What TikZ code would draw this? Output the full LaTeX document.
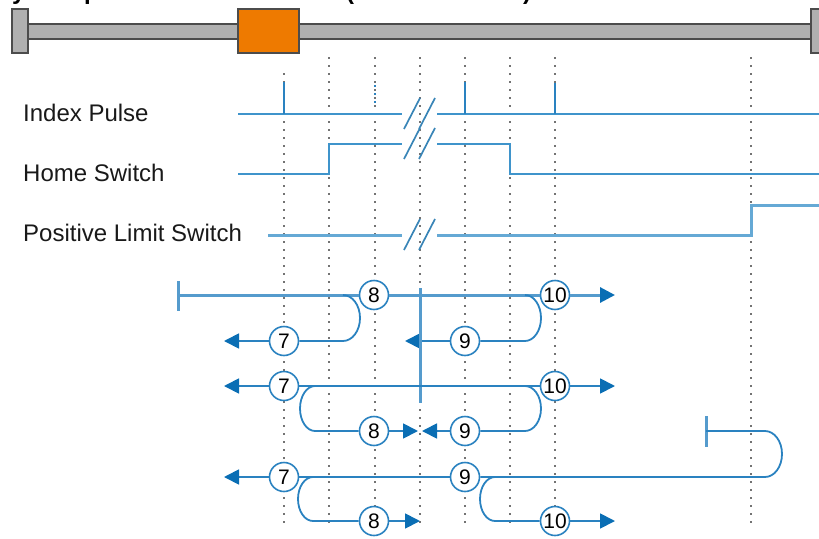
\documentclass[tikz,border=0pt]{standalone}
\usepackage{fontspec}
\setmainfont{Liberation Sans}
\usetikzlibrary{arrows.meta}
\definecolor{sig}{HTML}{3F94CB}
\definecolor{flow}{HTML}{2A82C0}
\definecolor{tip}{HTML}{0A6EB4}
\tikzset{
  x=1pt,y=-1pt,
  grid/.style={black!55,line width=1.1pt,dash pattern=on 2pt off 6pt},
  sigline/.style={sig,line width=1.7pt},
  sigthick/.style={sig!80,line width=3pt},
  slash/.style={sig!90!black,line width=1.7pt},
  flowline/.style={flow,line width=1.8pt},
  thickflow/.style={flow!80,line width=3pt},
  arrowtip/.style={-{Triangle[length=15pt,width=15pt,color=tip]}},
  num/.style={circle,draw=flow,line width=1.6pt,fill=white,minimum size=29pt,inner sep=0pt,font=\fontsize{21}{21}\selectfont},
  label/.style={anchor=west,inner sep=0pt,font=\fontsize{24}{24}\selectfont,text=black!90},
  railbox/.style={draw=black!70,line width=1.5pt,fill=black!31},
  titletext/.style={anchor=base west,inner sep=0pt,font=\bfseries\fontsize{24}{24}\selectfont},
}
\begin{document}
\begin{tikzpicture}
\useasboundingbox (0,0) rectangle (819,538);
\clip (0,0) rectangle (819,538);
% cropped title
\node[titletext] (t1) at (12,-1) {y};
\node[titletext] (t2) at (84,-1) {p};
\node[titletext] (t3) at (346,-1) {(};
\node[titletext] (t4) at (523,-1) {)};
% rail
\draw[railbox] (27,24) rectangle (813,39);
\draw[railbox] (12,9) rectangle (28,53);
\draw[railbox] (811,9) rectangle (828,53);
\draw[draw=black!70,line width=1.5pt,fill={rgb,255:red,238;green,122;blue,0}] (238,9) rectangle (299,53);
% grid lines
\foreach \x/\t in {284/73,329/57,375/57,420/57,465/57,510/57,555/57,751/57}
  \draw[grid] (\x,\t) -- (\x,524);
% labels
\node[label] (ip) at (23,113) {Index Pulse};
\node[label] (hs) at (23,173) {Home Switch};
\node[label] (pl) at (23,233) {Positive Limit Switch};
% signals
\draw[sigline] (238,114) -- (402,114);
\draw[flow,line width=1.7pt] (284,82) -- (284,114);
\draw[flow,line width=1.2pt,dash pattern=on 2pt off 6pt] (375,85) -- (375,103);
\draw[sigline] (437,114) -- (819,114);
\draw[flow,line width=1.7pt] (465,82) -- (465,114);
\draw[flow,line width=1.7pt] (555,83) -- (555,114);
\draw[sigline] (238,174) -- (329,174) -- (329,144) -- (402,144);
\draw[sigline] (437,144) -- (510,144) -- (510,174) -- (819,174);
\draw[sigthick] (268,235) -- (402,235);
\draw[sigthick] (437,235) -- (751,235) -- (751,205) -- (819,205);
\foreach \y in {114,144,235}{
  \draw[slash] (404,\y+15) -- (420,\y-16);
  \draw[slash] (419,\y+15) -- (435,\y-16);
}
% motion row 1
\coordinate (s1) at (178,295);
\draw[thickflow] (178,281) -- (178,311);
\node[num] (n8a) at (374,295) {8};
\node[num] (n10a) at (555,295) {10};
\node[num] (n7a) at (284,341) {7};
\node[num] (n9a) at (465,341) {9};
\coordinate (e1a) at (224,341);
\coordinate (e1b) at (405,341);
\coordinate (e1c) at (615,295);
\draw[thickflow] (s1) -- (n8a);
\draw[thickflow] (n8a) -- (n10a);
\draw[flowline] (343,295) arc[start angle=-90,end angle=90,x radius=17,y radius=23] -- (n7a);
\draw[flowline] (525,295) arc[start angle=-90,end angle=90,x radius=16,y radius=23] -- (n9a);
\draw[flowline,arrowtip] (n7a) -- (e1a);
\draw[flowline,arrowtip] (n9a) -- (e1b);
\draw[thickflow,arrowtip] (n10a) -- (e1c);
% stop bar
\draw[thickflow] (420,288) -- (420,403);
% motion row 2
\node[num] (n7b) at (284,386) {7};
\node[num] (n10b) at (555,386) {10};
\node[num] (n8b) at (374,431) {8};
\node[num] (n9b) at (465,431) {9};
\coordinate (e2a) at (224,386);
\coordinate (e2b) at (615,386);
\coordinate (e2c) at (418,431);
\coordinate (e2d) at (422,431);
\draw[flowline] (n7b) -- (n10b);
\draw[flowline] (315,386) arc[start angle=270,end angle=90,x radius=15,y radius=22.5] -- (n8b);
\draw[flowline] (525,386) arc[start angle=-90,end angle=90,x radius=16,y radius=22.5] -- (n9b);
\draw[flowline,arrowtip] (n7b) -- (e2a);
\draw[flowline,arrowtip] (n10b) -- (e2b);
\draw[flowline,arrowtip] (n8b) -- (e2c);
\draw[flowline,arrowtip] (n9b) -- (e2d);
% motion row 3
\draw[thickflow] (706,416) -- (706,447);
\coordinate (s3) at (706,431);
\node[num] (n7c) at (284,477) {7};
\node[num] (n9c) at (465,477) {9};
\node[num] (n8c) at (374,521) {8};
\node[num] (n10c) at (555,521) {10};
\coordinate (e3a) at (224,477);
\coordinate (e3b) at (420,521);
\coordinate (e3c) at (615,521);
\draw[flowline] (s3) -- (765,431) arc[start angle=-90,end angle=90,x radius=17,y radius=23] -- (n9c);
\draw[flowline] (n9c) -- (n7c);
\draw[flowline] (313,477) arc[start angle=270,end angle=90,x radius=15,y radius=22] -- (n8c);
\draw[flowline] (495,477) arc[start angle=270,end angle=90,x radius=15,y radius=22] -- (n10c);
\draw[flowline,arrowtip] (n7c) -- (e3a);
\draw[flowline,arrowtip] (n8c) -- (e3b);
\draw[flowline,arrowtip] (n10c) -- (e3c);
\end{tikzpicture}
\end{document}
